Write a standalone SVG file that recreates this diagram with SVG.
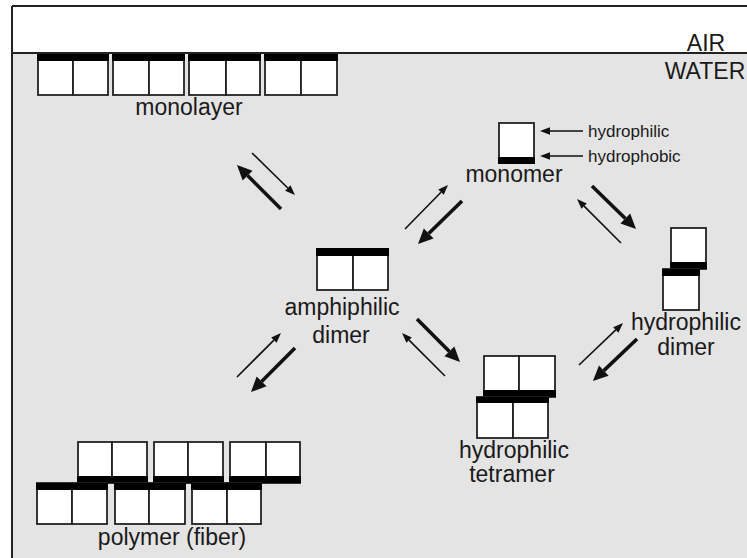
<svg xmlns="http://www.w3.org/2000/svg" width="747" height="558" viewBox="0 0 747 558">
<defs>
<style>
.lbl{font-family:"Liberation Sans",Arial,Helvetica,sans-serif;font-size:23px;fill:#1a1a1a;text-anchor:middle}
.sm{font-family:"Liberation Sans",Arial,Helvetica,sans-serif;font-size:17px;fill:#1a1a1a}
.box{fill:#fff;stroke:#222;stroke-width:1.8}
.bar{fill:#000}
.thin{stroke:#111;stroke-width:1.6;fill:none}
.thick{stroke:#111;stroke-width:3.6;fill:none}
</style>
<marker id="ht" markerUnits="userSpaceOnUse" markerWidth="12" markerHeight="12" viewBox="0 -6 12 12" refX="0" refY="0" orient="auto" overflow="visible">
<path d="M0,-3.8 L10,0 L0,3.8 z" fill="#111"/>
</marker>
<marker id="hk" markerUnits="userSpaceOnUse" markerWidth="16" markerHeight="16" viewBox="0 -8 16 16" refX="0" refY="0" orient="auto" overflow="visible">
<path d="M0,-7 L15,0 L0,7 z" fill="#111"/>
</marker>
</defs>
<rect x="0" y="0" width="747" height="558" fill="#fff"/>
<rect x="12" y="53" width="735" height="505" fill="#e4e4e4"/>
<g id="frame" stroke="#222" stroke-width="2" fill="none">
<line x1="12" y1="6" x2="747" y2="6"/>
<line x1="12" y1="6" x2="12" y2="558"/>
<line x1="12" y1="53" x2="747" y2="53"/>
</g>
<g id="air-water">
<text class="lbl" x="706" y="51">AIR</text>
<text class="lbl" x="705" y="79">WATER</text>
</g>
<g id="monolayer">
<rect class="box" x="38" y="57" width="35" height="38"/><rect class="box" x="73" y="57" width="35" height="38"/>
<rect class="box" x="113" y="57" width="36" height="38"/><rect class="box" x="149" y="57" width="35" height="38"/>
<rect class="box" x="189" y="57" width="37" height="38"/><rect class="box" x="226" y="57" width="34" height="38"/>
<rect class="box" x="265" y="57" width="36" height="38"/><rect class="box" x="301" y="57" width="36" height="38"/>
<rect class="bar" x="37" y="54" width="72" height="7"/>
<rect class="bar" x="112" y="54" width="73" height="7"/>
<rect class="bar" x="188" y="54" width="73" height="7"/>
<rect class="bar" x="264" y="54" width="74" height="7"/>
<text class="lbl" x="189" y="115">monolayer</text>
</g>
<g id="monomer">
<rect class="box" x="499" y="123" width="35" height="40"/>
<rect class="bar" x="498" y="157" width="37" height="7"/>
<text class="lbl" x="514" y="182">monomer</text>
<line class="thin" x1="583" y1="131" x2="550" y2="131" marker-end="url(#ht)"/>
<line class="thin" x1="583" y1="156" x2="550" y2="156" marker-end="url(#ht)"/>
<text class="sm" x="588" y="137">hydrophilic</text>
<text class="sm" x="588" y="162">hydrophobic</text>
</g>
<g id="amphiphilic-dimer">
<rect class="box" x="317" y="250" width="36" height="40"/><rect class="box" x="353" y="250" width="35" height="40"/>
<rect class="bar" x="316" y="248" width="73" height="8"/>
<text class="lbl" x="342" y="315">amphiphilic</text>
<text class="lbl" x="341" y="343">dimer</text>
</g>
<g id="hydrophilic-dimer">
<rect class="box" x="671" y="228" width="35" height="41"/>
<rect class="bar" x="670" y="262" width="37" height="7"/>
<rect class="box" x="663" y="269" width="36" height="41"/>
<rect class="bar" x="662" y="269" width="38" height="7"/>
<text class="lbl" x="686" y="330">hydrophilic</text>
<text class="lbl" x="686" y="355">dimer</text>
</g>
<g id="hydrophilic-tetramer">
<rect class="box" x="484" y="356" width="35" height="41"/><rect class="box" x="519" y="356" width="36" height="41"/>
<rect class="bar" x="483" y="390" width="73" height="7"/>
<rect class="box" x="477" y="397" width="36" height="41"/><rect class="box" x="513" y="397" width="35" height="41"/>
<rect class="bar" x="476" y="397" width="73" height="6"/>
<text class="lbl" x="514" y="458">hydrophilic</text>
<text class="lbl" x="512" y="482">tetramer</text>
</g>
<g id="polymer">
<rect class="box" x="78" y="442" width="34" height="41"/><rect class="box" x="112" y="442" width="35" height="41"/>
<rect class="box" x="154" y="442" width="34" height="41"/><rect class="box" x="188" y="442" width="35" height="41"/>
<rect class="box" x="230" y="442" width="36" height="41"/><rect class="box" x="266" y="442" width="34" height="41"/>
<rect class="bar" x="77" y="476" width="71" height="7"/>
<rect class="bar" x="153" y="476" width="71" height="7"/>
<rect class="bar" x="229" y="476" width="72" height="7"/>
<rect class="box" x="37" y="483" width="35" height="41"/><rect class="box" x="72" y="483" width="35" height="41"/>
<rect class="box" x="115" y="483" width="34" height="41"/><rect class="box" x="149" y="483" width="36" height="41"/>
<rect class="box" x="192" y="483" width="35" height="41"/><rect class="box" x="227" y="483" width="34" height="41"/>
<rect class="bar" x="36" y="483" width="72" height="7"/>
<rect class="bar" x="114" y="483" width="72" height="7"/>
<rect class="bar" x="191" y="483" width="71" height="7"/>
<text class="lbl" x="172" y="545">polymer (fiber)</text>
</g>
<g id="connectors">
<line class="thin" x1="252" y1="153" x2="287.8" y2="188" marker-end="url(#ht)"/>
<line class="thick" x1="281" y1="209" x2="247.6" y2="175.6" marker-end="url(#hk)"/>
<line class="thin" x1="405" y1="229" x2="441" y2="192.2" marker-end="url(#ht)"/>
<line class="thick" x1="462" y1="201" x2="428.7" y2="233.5" marker-end="url(#hk)"/>
<line class="thick" x1="592" y1="186" x2="625.3" y2="218.5" marker-end="url(#hk)"/>
<line class="thin" x1="621" y1="243" x2="584.1" y2="206.1" marker-end="url(#ht)"/>
<line class="thin" x1="579" y1="365" x2="615.8" y2="329.9" marker-end="url(#ht)"/>
<line class="thick" x1="637" y1="339" x2="603.8" y2="370.6" marker-end="url(#hk)"/>
<line class="thick" x1="417" y1="319" x2="449.4" y2="351.4" marker-end="url(#hk)"/>
<line class="thin" x1="445" y1="376" x2="409.1" y2="340.1" marker-end="url(#ht)"/>
<line class="thin" x1="237" y1="377" x2="273.9" y2="340.1" marker-end="url(#ht)"/>
<line class="thick" x1="295" y1="348" x2="261.6" y2="381.4" marker-end="url(#hk)"/>
</g>
</svg>
